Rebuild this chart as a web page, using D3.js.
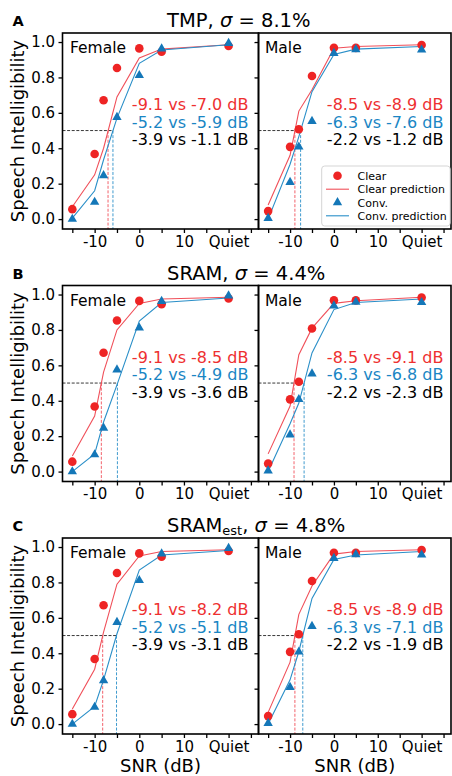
<!DOCTYPE html>
<html><head><meta charset="utf-8">
<script src="https://cdn.jsdelivr.net/npm/d3@7"></script>
<style>body{margin:0;background:#fff} text{font-family:"DejaVu Sans",sans-serif}</style>
</head><body><svg id="c" width="452" height="776"></svg>
<script>
// ---------- data ----------
const snr = [-15, -10, -8, -5, 0, 5, 20]; // 20 = Quiet
const xTicks = [-15, -10, -5, 0, 5, 10, 15, 20, 25];
const xTickLabels = {"-10": "-10", "0": "0", "10": "10", "20": "Quiet"};
const yTicks = [0, 0.2, 0.4, 0.6, 0.8, 1.0];

const femaleClear = [0.056, 0.368, 0.671, 0.853, 0.964, 0.945, 0.978];
const femaleConv  = [0.0, 0.096, 0.246, 0.575, 0.812, 0.962, 0.993];
const maleClear   = [0.045, 0.408, 0.507, 0.808, 0.967, 0.967, 0.983];
const maleConv    = [0.005, 0.208, 0.408, 0.553, 0.937, 0.958, 0.956];

const panelLetters = ["A", "B", "C"];
const panelModels = ["TMP", "SRAM", "SRAM"];
const panelSubs = ["", "", "est"];
const panelSigma = ["8.1%", "4.4%", "4.8%"];

// predictions per panel
const predFemaleClear = [
  [0.07, 0.25, 0.40, 0.69, 0.91, 0.96, 0.985],
  [0.088, 0.314, 0.562, 0.80, 0.95, 0.975, 0.985],
  [0.085, 0.31, 0.52, 0.79, 0.95, 0.975, 0.985]];
const predFemaleConv = [
  [0.005, 0.16, 0.335, 0.57, 0.88, 0.955, 0.985],
  [0.0, 0.10, 0.28, 0.49, 0.85, 0.955, 0.98],
  [0.0, 0.10, 0.25, 0.51, 0.87, 0.955, 0.98]];
const predMaleClear = [
  [0.08, 0.36, 0.61, 0.73, 0.965, 0.975, 0.985],
  [0.10, 0.37, 0.66, 0.81, 0.95, 0.965, 0.985],
  [0.066, 0.35, 0.62, 0.78, 0.96, 0.975, 0.985]];
const predMaleConv = [
  [0.0, 0.31, 0.466, 0.72, 0.93, 0.96, 0.975],
  [0.0, 0.27, 0.387, 0.67, 0.915, 0.955, 0.975],
  [0.0, 0.25, 0.41, 0.71, 0.93, 0.955, 0.975]];

// predicted SRTs (dashed markers) [panel][female, male]
const srtClearPred = [[-7.0, -8.9], [-8.5, -9.1], [-8.2, -8.9]];
const srtConvPred  = [[-5.9, -7.6], [-4.9, -6.8], [-5.1, -7.1]];

const srtTextClear = [["-9.1 vs -7.0 dB", "-8.5 vs -8.9 dB"], ["-9.1 vs -8.5 dB", "-8.5 vs -9.1 dB"], ["-9.1 vs -8.2 dB", "-8.5 vs -8.9 dB"]];
const srtTextConv  = [["-5.2 vs -5.9 dB", "-6.3 vs -7.6 dB"], ["-5.2 vs -4.9 dB", "-6.3 vs -6.8 dB"], ["-5.2 vs -5.1 dB", "-6.3 vs -7.1 dB"]];
const srtTextDiff  = [["-3.9 vs -1.1 dB", "-2.2 vs -1.2 dB"], ["-3.9 vs -3.6 dB", "-2.2 vs -2.3 dB"], ["-3.9 vs -3.1 dB", "-2.2 vs -1.9 dB"]];

const legendLabels = ["Clear", "Clear prediction", "Conv.", "Conv. prediction"];

// ---------- style / layout ----------
const RED = "#ee2424", BLUE = "#1477b8";
const RED_LINE = "#f0505a", BLUE_LINE = "#2a8fc8";
const RED_TXT = "#ee3030", BLUE_TXT = "#1a86c4";
const tops = [33, 285.5, 538];
const AX_H = 196;
const cols = [[62.5, 258.5], [258.5, 451]];
const xDomain = [-17.2, 26.7];
const yDomain = [-0.056, 1.051];

const svg = d3.select("#c");

panelLetters.forEach((letter, p) => {
  const top = tops[p];
  const y = d3.scaleLinear().domain(yDomain).range([top + AX_H, top]);

  svg.append("text").attr("x", 12.5).attr("y", top - 7)
    .attr("font-size", 14.5).attr("font-weight", "bold").text(letter);
  const tt = svg.append("text").attr("x", 167).attr("y", top - 6).attr("font-size", 19.5);
  tt.append("tspan").text(panelModels[p]);
  if (panelSubs[p]) tt.append("tspan").attr("font-size", 13).attr("dy", 3).text(panelSubs[p]);
  tt.append("tspan").attr("dy", panelSubs[p] ? -3 : 0).text(", ");
  tt.append("tspan").attr("font-style", "italic").text("σ");
  tt.append("tspan").text(" = " + panelSigma[p]);

  [0, 1].forEach(s => {
    const [l, r] = cols[s];
    const x = d3.scaleLinear().domain(xDomain).range([l, r]);
    const g = svg.append("g");
    const obsClear = s === 0 ? femaleClear : maleClear;
    const obsConv = s === 0 ? femaleConv : maleConv;
    const pc = s === 0 ? predFemaleClear[p] : predMaleClear[p];
    const pv = s === 0 ? predFemaleConv[p] : predMaleConv[p];
    const sc = srtClearPred[p][s], sv = srtConvPred[p][s];

    g.append("line").attr("x1", l).attr("x2", x(Math.max(sc, sv)))
      .attr("y1", y(0.5)).attr("y2", y(0.5))
      .attr("stroke", "#222").attr("stroke-width", 0.9).attr("stroke-dasharray", "3,1.6");
    [[sc, RED_LINE], [sv, BLUE_LINE]].forEach(([v, c]) => {
      g.append("line").attr("x1", x(v)).attr("x2", x(v))
        .attr("y1", y(0.5)).attr("y2", top + AX_H)
        .attr("stroke", c).attr("stroke-width", 0.9).attr("stroke-dasharray", "3,1.6");
    });

    const line = d3.line().x((d, i) => x(snr[i])).y(d => y(d));
    g.append("path").datum(pc).attr("d", line).attr("fill", "none")
      .attr("stroke", RED_LINE).attr("stroke-width", 1.1);
    g.append("path").datum(pv).attr("d", line).attr("fill", "none")
      .attr("stroke", BLUE_LINE).attr("stroke-width", 1.1);

    g.selectAll(null).data(obsClear).enter().append("circle")
      .attr("cx", (d, i) => x(snr[i])).attr("cy", d => y(d)).attr("r", 4.3).attr("fill", RED);
    const tri = d3.symbol().type(d3.symbolTriangle).size(38);
    g.selectAll(null).data(obsConv).enter().append("path")
      .attr("d", tri).attr("transform", (d, i) => `translate(${x(snr[i])},${y(d)})`).attr("fill", BLUE);

    const yAxis = d3.axisLeft(y).tickValues(yTicks).tickSize(4).tickPadding(3.5)
      .tickFormat(s === 0 ? d3.format(".1f") : () => "");
    const ya = svg.append("g").attr("transform", `translate(${l},0)`).call(yAxis);
    const xAxis = d3.axisBottom(x).tickValues(xTicks).tickSize(4).tickPadding(3)
      .tickFormat(d => xTickLabels[String(d)] || "");
    const xa = svg.append("g").attr("transform", `translate(0,${top + AX_H})`).call(xAxis);
    [ya, xa].forEach(a => {
      a.select(".domain").remove();
      a.selectAll(".tick line").attr("stroke", "#000").attr("stroke-width", 1.3);
      a.selectAll(".tick text").attr("font-size", 15).attr("fill", "#000")
        .attr("font-family", "DejaVu Sans");
    });
    svg.append("rect").attr("x", l).attr("y", top).attr("width", r - l).attr("height", AX_H)
      .attr("fill", "none").attr("stroke", "#000").attr("stroke-width", 1.6);

    svg.append("text").attr("x", l + (s === 0 ? 7.5 : 6.5)).attr("y", top + 20.3)
      .attr("font-size", 15.5).text(s === 0 ? "Female" : "Male");

    const rx = s === 0 ? r - 10 : r - 7.5;
    [[srtTextClear, RED_TXT], [srtTextConv, BLUE_TXT], [srtTextDiff, "#000"]].forEach(([arr, c], k) => {
      svg.append("text").attr("x", rx).attr("y", top + 77 + 17.5 * k)
        .attr("text-anchor", "end").attr("font-size", 16).attr("fill", c).text(arr[p][s]);
    });

    if (p === 2) {
      svg.append("text").attr("x", (l + r) / 2).attr("y", 772)
        .attr("text-anchor", "middle").attr("font-size", 18).text("SNR (dB)");
    }
  });

  svg.append("text").attr("transform", `translate(24,${top + AX_H / 2}) rotate(-90)`)
    .attr("text-anchor", "middle").attr("font-size", 18).text("Speech Intelligibility");
});

// legend in panel A male
{
  const lg = svg.append("g");
  lg.append("rect").attr("x", 321.7).attr("y", 166).attr("width", 128.5).attr("height", 60)
    .attr("rx", 3).attr("fill", "#fff").attr("fill-opacity", 0.85)
    .attr("stroke", "#d0d0d0").attr("stroke-width", 0.9);
  const ys = [175.7, 189.2, 202.5, 215.8];
  legendLabels.forEach((lab, i) => {
    const yy = ys[i];
    if (i === 0) lg.append("circle").attr("cx", 337.5).attr("cy", yy).attr("r", 4.3).attr("fill", RED);
    if (i === 2) lg.append("path").attr("d", d3.symbol().type(d3.symbolTriangle).size(38)())
      .attr("transform", `translate(337.5,${yy})`).attr("fill", BLUE);
    if (i === 1 || i === 3) lg.append("line").attr("x1", 326).attr("x2", 349).attr("y1", yy).attr("y2", yy)
      .attr("stroke", i === 1 ? RED_LINE : BLUE_LINE).attr("stroke-width", 1.1);
    lg.append("text").attr("x", 357.5).attr("y", yy + 4).attr("font-size", 11).text(lab);
  });
}
</script></body></html>
